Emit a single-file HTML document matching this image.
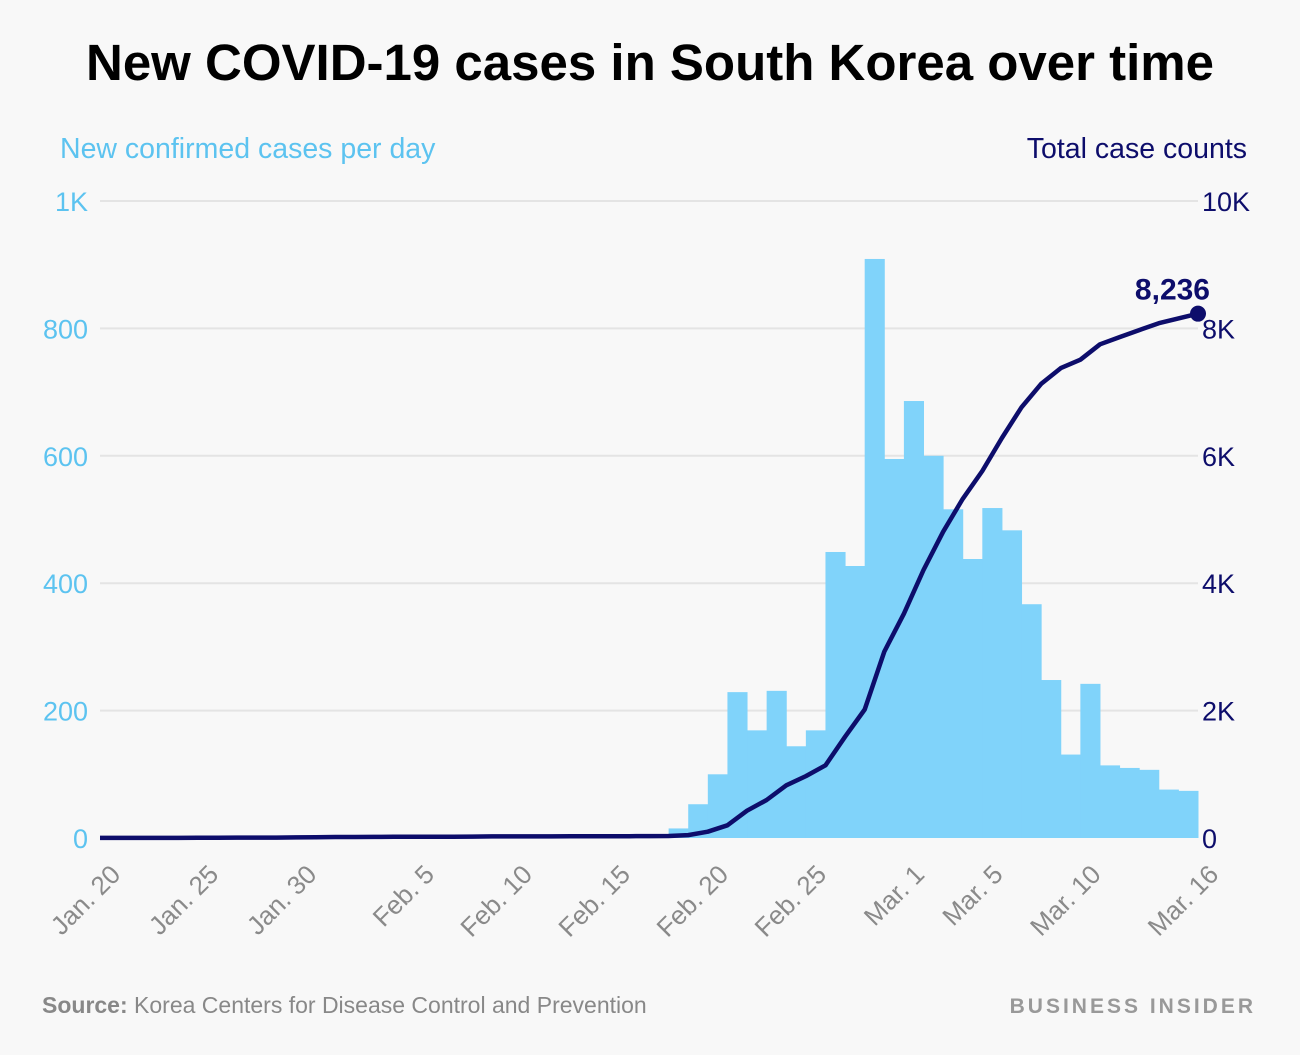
<!DOCTYPE html>
<html><head><meta charset="utf-8"><style>
html,body{margin:0;padding:0;background:#f8f8f8;}
svg{display:block;font-family:"Liberation Sans",sans-serif;}
</style></head><body>
<svg id="chart" width="1300" height="1055" viewBox="0 0 1300 1055">
<rect width="1300" height="1055" fill="#f8f8f8"/>
<text x="650" y="80" text-anchor="middle" font-size="51" font-weight="bold" fill="#000">New COVID-19 cases in South Korea over time</text>
<text x="60" y="158" font-size="28.5" fill="#5cc3f0">New confirmed cases per day</text>
<text x="1247" y="158" text-anchor="end" font-size="28.5" fill="#0d0d6b">Total case counts</text>
<g id="grid"></g><g id="bars"></g><g id="line"></g><g id="axes"></g>
<text x="42" y="1013" font-size="23" fill="#888"><tspan font-weight="bold">Source:</tspan> Korea Centers for Disease Control and Prevention</text>
<text x="1256" y="1013" text-anchor="end" font-size="21" font-weight="bold" letter-spacing="3" fill="#999">BUSINESS INSIDER</text>
</svg>
<script>
const dailyCases = [1,0,0,0,1,1,0,3,0,0,3,3,4,0,1,3,0,1,0,1,3,0,0,0,4,0,0,0,1,1,
15,53,100,229,169,231,144,169,449,427,909,595,686,600,516,438,518,483,367,248,131,242,114,110,107,76,74];
const leftTicks = [0,200,400,600,800,1000];
const leftTickLabels = ["0","200","400","600","800","1K"];
const rightTickLabels = ["0","2K","4K","6K","8K","10K"];
const xTickDays = [0,5,10,16,21,26,31,36,41,45,50,56];
const xTickLabels = ["Jan. 20","Jan. 25","Jan. 30","Feb. 5","Feb. 10","Feb. 15","Feb. 20","Feb. 25","Mar. 1","Mar. 5","Mar. 10","Mar. 16"];
const finalLabel = "8,236";

const NS="http://www.w3.org/2000/svg";
const X0=100,X1=1198,Y0=838,Y1=201;
const xs=d=>X0+(X1-X0)*d/56;
const yL=v=>Y0-(Y0-Y1)*v/1000;
const yR=v=>Y0-(Y0-Y1)*v/10000;
function mk(tag,attrs,parent){const e=document.createElementNS(NS,tag);for(const k in attrs)e.setAttribute(k,attrs[k]);parent.appendChild(e);return e;}
const grid=document.getElementById('grid'),bars=document.getElementById('bars'),line=document.getElementById('line'),axes=document.getElementById('axes');
leftTicks.forEach((t,i)=>{
 const y=yL(t);
 if(i>0){const g=mk('line',{x1:X0,x2:X1,y1:y,y2:y,stroke:'#e4e4e4','stroke-width':2},grid);
 
 }
 const l=mk('text',{x:88,y:y+10,'text-anchor':'end','font-size':27,fill:'#5cc3f0'},axes);l.textContent=leftTickLabels[i];
 
 
 const r=mk('text',{x:1202,y:y+10,'font-size':27,fill:'#0d0d6b'},axes);r.textContent=rightTickLabels[i];
 
 
});
const w=(X1-X0)/56;
dailyCases.forEach((v,d)=>{
 if(d===0)return;
 const b=mk('rect',{x:xs(d)-w,y:yL(v),width:w+0.5,height:Y0-yL(v),fill:'#80d3fa'},bars);
 
 
});
let cum=0;const pts=[];
dailyCases.forEach((v,d)=>{cum+=v;pts.push(xs(d).toFixed(1)+','+yR(cum).toFixed(1));});
const pl=mk('polyline',{points:pts.join(' '),fill:'none',stroke:'#0d0d6b','stroke-width':4.5,'stroke-linejoin':'round'},line);


const dot=mk('circle',{cx:xs(56),cy:yR(cum),r:8,fill:'#0d0d6b'},line);


const fl=mk('text',{x:xs(56)+12,y:yR(cum)-14,'text-anchor':'end','font-size':30,'font-weight':'bold',fill:'#0d0d6b'},line);
fl.textContent=finalLabel;


xTickDays.forEach((d,i)=>{
 const x=xs(d)+22,y=876;
 const t=mk('text',{x:x,y:y,'text-anchor':'end','font-size':26,fill:'#8a8a8a',transform:'rotate(-45 '+x+' '+y+')'},axes);
 t.textContent=xTickLabels[i];
 
 
});
</script>
</body></html>
